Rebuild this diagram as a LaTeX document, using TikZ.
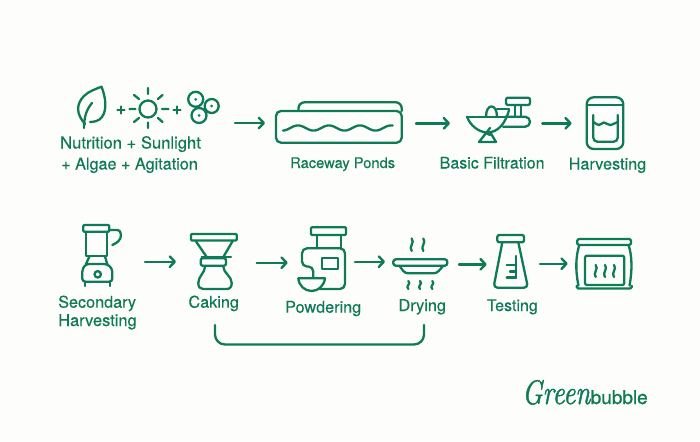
\documentclass[tikz,border=0pt]{standalone}
\usepackage{fontspec}
\setmainfont{TeX Gyre Heros}
\newfontfamily\logofont{Latin Modern Roman}[FakeBold=1.6]
\usetikzlibrary{arrows.meta}
\definecolor{gb}{HTML}{0F7A58}
\definecolor{bgc}{HTML}{FDFEFC}
\newcommand{\squig}[3]{\draw[icon] (#1,#2) .. controls ({#1+3.4},{#2+#3/3}) and ({#1-3.4},{#2+2*#3/3}) .. (#1,{#2+#3});}
\tikzset{
  x=1pt,y=-1pt,
  icon/.style={draw=gb,line width=2.3pt,line cap=round,line join=round},
  flow/.style={draw=gb,line width=2.4pt,line cap=round,-{Straight Barb[length=5pt,width=10.5pt,round]}},
  lbl/.style={text=gb,anchor=base west,inner sep=0pt,font=\fontsize{#1}{18}\selectfont\addfontfeatures{FakeBold=0.4}},
}
\begin{document}
\begin{tikzpicture}
\fill[bgc] (0,0) rectangle (700,441);
\useasboundingbox (0,0) rectangle (700,441);
% leaf
\draw[icon] (84,128) .. controls (84,118) and (86,110) .. (92,103);
\draw[icon] (85,124) .. controls (76,114) and (76,104) .. (84,96) .. controls (89,91) and (96,89) .. (101.5,86.7) .. controls (106,98) and (107,110) .. (102,117) .. controls (99,121) and (94,122) .. (90,122);
% plus, sun, plus
\draw[icon] (117.5,110) -- (124.5,110) (121,106.5) -- (121,113.5);
\draw[icon] (129.5,109) -- (135.5,109) (162,109) -- (168.5,109) (148,88) -- (148,94) (148,122.5) -- (148,128) (134,95) -- (139,99) (162.5,95) -- (158,99) (134,122) -- (139,118) (162.5,122) -- (158,118);
\draw[icon] (148,109) circle[radius=8.5pt];
\draw[icon] (173.5,110) -- (180.5,110) (177,106.5) -- (177,113.5);
% algae
\draw[icon] (195.7,99.3) circle[radius=7.5pt] (211.7,106) circle[radius=7pt] (199,115.5) circle[radius=7.5pt];
\fill[gb] (195.7,99.3) circle[radius=1.5pt] (211.7,106) circle[radius=1.5pt] (199,115.5) circle[radius=1.5pt];
\node[lbl=16.6] (l1) at (60,148.5) {Nutrition + Sunlight};
\node[lbl=16.2] (l2) at (61,169.5) {+ Algae + Agitation};
% pond
\draw[icon,rounded corners=5pt] (276,111) -- (401.7,111) -- (401.7,142.7) -- (276,142.7) -- cycle;
\draw[icon,rounded corners=6pt] (298.5,111) -- (298.5,102.3) -- (401.7,102.3) -- (401.7,111);
\draw[icon] plot[domain=283:392.7,samples=70,smooth] (\x,{128-2.6*cos((\x-298)/31*360)});
\node[lbl=14.7] (l3) at (290,168) {Raceway Ponds};
% filtration
\draw[icon] (467,116.7) -- (505,116.7);
\draw[icon] (467,116.7) .. controls (470,125) and (478,132) .. (487,132.5) .. controls (497,132.5) and (505,125) .. (509,110);
\draw[icon] (490,132) -- (496,142) -- (479,142) -- (490,128);
\draw[icon] (484,132) -- (490,135);
\draw[icon] (486,116.7) .. controls (486,103) and (497,103) .. (497,116.7);
\draw[icon] (497,109) -- (509,109);
\draw[icon,rounded corners=5pt] (505,116.7) -- (530,116.7) -- (530,126.8) -- (503,126.8);
\draw[icon,rounded corners=2pt] (506,97.7) rectangle (530,105);
\draw[icon] (515,105) -- (515,116) (521,105) -- (521,116);
\node[lbl=16] (l4) at (439.5,168.5) {Basic Filtration};
% harvest jar
\draw[icon,rounded corners=7pt] (586.7,97.3) rectangle (623.3,149);
\draw[icon] (587,105) -- (623,105);
\draw[icon,rounded corners=4pt] (593.3,115) -- (593.3,141.7) -- (617.7,141.7) -- (617.7,115);
\draw[icon] plot[smooth] coordinates {(593.3,122) (599,125) (604,122.5) (610,125) (617.7,122)};
\node[lbl=16.2] (l5) at (568.5,169.5) {Harvesting};
% blender
\draw[icon,rounded corners=1pt] (83.3,225) rectangle (109.3,231.7);
\draw[icon] (86,231.7) -- (86,255.7) -- (107.3,255.7) -- (107.3,231.7);
\draw[icon] (109.3,230) -- (116,230) .. controls (120,230) and (121,232) .. (121,235) .. controls (121,240) and (117,243) .. (112.3,245);
\draw[icon] (89.3,256.7) -- (86,264) (105,256.7) -- (107.3,264);
\draw[icon,rounded corners=3pt] (86,264) -- (107.3,264) -- (112.3,269) -- (112.3,281.7) -- (82.3,281.7) -- (82.3,269) -- (86,264) -- (95,264);
\draw[icon] (85,281.7) -- (85,286) (110,281.7) -- (110,286);
\draw[icon] (97.7,274.3) circle[radius=3.2pt];
\node[lbl=16.2] (l6) at (58,307.7) {Secondary};
\node[lbl=16.4] (l7) at (58,326) {Harvesting};
% caking
\draw[icon,rounded corners=1pt] (191,234) rectangle (236.7,240.5);
\draw[icon] (195.7,241) -- (206.7,257) (232.7,241) -- (223.3,257);
\draw[icon] (201.7,257.3) -- (231,257.3);
\draw[icon,rounded corners=2pt] (200.7,258.3) rectangle (226,265.7);
\draw[icon] (205,266.7) .. controls (205,273) and (198.3,276) .. (198.3,283) .. controls (198.3,287) and (200,289) .. (203,289) -- (226.5,289) .. controls (230,289) and (231.7,287) .. (231.7,283) .. controls (231.7,276) and (223.3,273) .. (223.3,266.7);
\node[lbl=16.2] (l8) at (188.3,307.7) {Caking};
% powdering
\draw[icon,rounded corners=1pt] (311,227.3) rectangle (346,235);
\draw[icon] (316.7,235) -- (316.7,248.3) (340.7,235) -- (340.7,248.3);
\draw[icon,rounded corners=5pt] (319,289) -- (345,289) -- (345,248.3) -- (302,248.3) -- (302,266.5) -- (313.3,266.5) -- (313.3,278);
\draw[icon] (321.7,257.7) rectangle (338.3,269);
\draw[icon] (298.3,278.3) -- (325,278.3) .. controls (324,286) and (318,291) .. (311.7,291) .. controls (305,291) and (299,286) .. (298.3,278.3);
\node[lbl=16.2] (l9) at (285,312.7) {Powdering};
% drying
\squig{411.7}{238.5}{12.5}
\squig{423.3}{238.5}{12.5}
\draw[icon,rounded corners=2.5pt] (393.3,259.3) rectangle (447.3,265.7);
\draw[icon,rounded corners=3pt] (399.3,265.7) -- (405,273.3) -- (436.7,273.3) -- (443.3,265.7);
\squig{408.3}{281}{8}
\squig{420}{281}{8}
\squig{432.3}{281}{8}
\node[lbl=16.3] (l10) at (398.3,311) {Drying};
% testing
\draw[icon,rounded corners=2pt] (497.3,235) rectangle (524,242.3);
\draw[icon,rounded corners=4pt] (502.3,242.3) -- (493.5,287.7) -- (528,287.7) -- (518.3,242.3);
\draw[icon] (515.7,256) -- (515.7,278) (506.7,265) -- (515.7,265) (510,271.5) -- (515.7,271.5) (506.7,277.5) -- (515.7,277.5);
\node[lbl=16] (l11) at (486.7,311) {Testing};
% bag
\draw[icon,rounded corners=1.5pt] (577.3,239) rectangle (631,245);
\draw[icon] (579.3,245) .. controls (576,255) and (575,270) .. (578.5,285.5);
\draw[icon] (628.5,245) .. controls (632,255) and (632.5,270) .. (629.5,285.5);
\draw[icon,rounded corners=1.5pt] (576.7,285.7) -- (576.7,288.5) -- (631.7,288.5) -- (631.7,285.7);
\draw[icon,rounded corners=2pt] (585,255.7) rectangle (624.3,285);
\squig{595.7}{265}{12}
\squig{605}{265}{12}
\squig{614}{265}{12}
% arrows
\coordinate (a1) at (235,123); \coordinate (b1) at (265,123);
\coordinate (a2) at (416,123.3); \coordinate (b2) at (450,123.3);
\coordinate (a3) at (542.3,123.3); \coordinate (b3) at (571.7,123.3);
\coordinate (a4) at (145,261.7); \coordinate (b4) at (176,261.7);
\coordinate (a5) at (256.7,262.7); \coordinate (b5) at (287.7,262.7);
\coordinate (a6) at (355,261.7); \coordinate (b6) at (385,261.7);
\coordinate (a7) at (459,264.3); \coordinate (b7) at (486.7,264.3);
\coordinate (a8) at (540,263.7); \coordinate (b8) at (567.7,263.7);
\foreach \i in {1,...,8} \draw[flow] (a\i) -- (b\i);
% bracket
\coordinate (c1) at (215,325); \coordinate (c2) at (424,325);
\draw[icon,line width=2.3pt,rounded corners=10pt] (c1) -- (215,344.5) -- (424,344.5) -- (c2);
% logo
\node[text=gb,anchor=base west,inner sep=0pt,font=\fontsize{30}{30}\selectfont\logofont\itshape] (logoa) at (522,404) {\resizebox{68pt}{24pt}{Green}};
\node[text=gb,anchor=base west,inner sep=0pt,font=\fontsize{19}{20}\selectfont\addfontfeatures{FakeBold=1}] (logob) at (590.5,404) {bubble};
\end{tikzpicture}
\end{document}
